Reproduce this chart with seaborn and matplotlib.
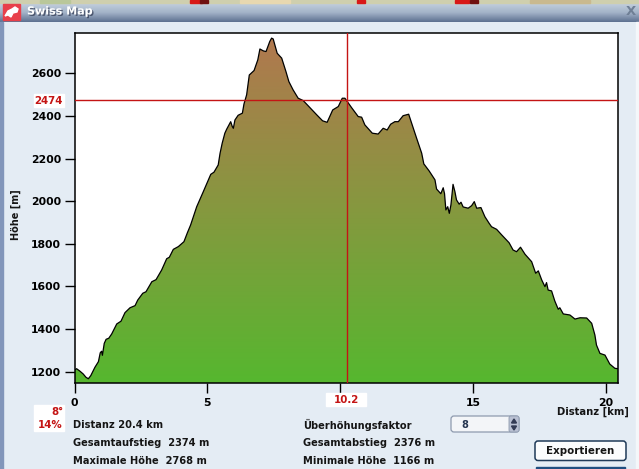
import matplotlib
matplotlib.use('Agg')
import matplotlib.pyplot as plt
from matplotlib.colors import LinearSegmentedColormap
from matplotlib.patches import FancyBboxPatch, Polygon, Rectangle
import matplotlib.patheffects as pe
import numpy as np
import pandas as pd
import seaborn as sns

# profile
dist_km = [0, .08, .21, .33, .43, .52, .61, .77, .90, .97, 1.02, 1.05, 1.12, 1.19, 1.29, 1.40, 1.59, 1.75, 1.90, 2.09,
           2.28, 2.38, 2.57, 2.69, 2.91, 3.07, 3.28, 3.47, 3.57, 3.72, 3.91, 4.12, 4.25, 4.37, 4.60, 4.85, 5.13, 5.25,
           5.41, 5.48, 5.56, 5.66, 5.73, 5.88, 5.94, 5.98, 6.04, 6.16, 6.32, 6.38, 6.48, 6.58, 6.76, 6.90, 6.98, 7.11,
           7.21, 7.35, 7.42, 7.48, 7.63, 7.80, 7.96, 8.07, 8.23, 8.42, 8.61, 8.86, 9.12, 9.34, 9.51, 9.72, 9.93, 10.08,
           10.18, 10.43, 10.68, 10.81, 10.93, 11.21, 11.43, 11.62, 11.77, 11.90, 12.06, 12.19, 12.37, 12.58, 12.69,
           12.88, 13.07, 13.15, 13.35, 13.57, 13.63, 13.79, 13.88, 13.93, 13.98, 14.05, 14.11, 14.17, 14.25, 14.32,
           14.38, 14.48, 14.55, 14.63, 14.82, 14.95, 15.05, 15.14, 15.30, 15.45, 15.61, 15.70, 15.89, 16.08, 16.36,
           16.51, 16.64, 16.79, 16.96, 17.21, 17.36, 17.46, 17.59, 17.71, 17.77, 17.83, 17.96, 18.08, 18.21, 18.27,
           18.40, 18.65, 18.84, 19.03, 19.28, 19.47, 19.59, 19.65, 19.78, 19.97, 20.15, 20.34, 20.46]
height_m = [1208, 1214, 1202, 1189, 1174, 1167, 1181, 1221, 1247, 1289, 1296, 1277, 1333, 1352, 1357, 1377, 1424, 1437,
            1477, 1500, 1510, 1536, 1568, 1575, 1622, 1632, 1677, 1730, 1737, 1774, 1787, 1810, 1852, 1888, 1974, 2045,
            2126, 2136, 2170, 2225, 2272, 2319, 2338, 2373, 2350, 2342, 2381, 2403, 2413, 2456, 2499, 2592, 2613, 2663,
            2714, 2705, 2702, 2749, 2765, 2761, 2694, 2671, 2608, 2561, 2522, 2483, 2472, 2439, 2405, 2377, 2370, 2428,
            2444, 2483, 2483, 2439, 2397, 2394, 2358, 2319, 2315, 2342, 2334, 2361, 2373, 2373, 2401, 2408, 2366, 2295,
            2225, 2175, 2142, 2100, 2057, 2035, 2063, 2035, 1959, 1974, 1943, 1982, 2079, 2045, 2006, 1986, 1995, 1973,
            1967, 1979, 1998, 1967, 1970, 1927, 1896, 1880, 1868, 1842, 1805, 1771, 1763, 1784, 1751, 1716, 1662, 1673,
            1630, 1599, 1618, 1583, 1579, 1532, 1493, 1500, 1471, 1466, 1447, 1453, 1452, 1427, 1372, 1325, 1286, 1278,
            1236, 1216, 1214]
x_ticks = [0, 5, 10, 15, 20]
x_labels = ['0', '5', '', '15', '20']  # the 10 sits under the cursor read-out
y_ticks = [1200, 1400, 1600, 1800, 2000, 2200, 2400, 2600]
cursor_km = 10.24
cursor_m = 2474

W, H = 639, 469
PANEL = '#E4ECF4'
RED = '#C41414'
TXT = '#151515'

sns.set_style('ticks')
plt.rcParams['font.family'] = ['DejaVu Sans']
fig = plt.figure(figsize=(W / 100, H / 100), dpi=100, facecolor=PANEL)

# window chrome, in pixels
bg = fig.add_axes([0, 0, 1, 1], zorder=0)
bg.set_xlim(0, W)
bg.set_ylim(H, 0)
bg.axis('off')
bar = np.linspace(0, 1, 40).reshape(-1, 1)
bar_cmap = LinearSegmentedColormap.from_list('bar', ['#C3CFDE', '#A3B3C8', '#5E7291'])
bg.imshow(bar, extent=[0, W, 22, 3], cmap=bar_cmap, aspect='auto', zorder=1)
bg.set_xlim(0, W)
bg.set_ylim(H, 0)
bg.add_patch(Rectangle((0, 0), W, 3, color='#CFCFAE', zorder=1))
for x0, w, c in [(190, 12, '#D81818'), (200, 8, '#701010'), (357, 8, '#D81818'), (455, 14, '#D81818'),
                 (470, 8, '#701010'), (40, 30, '#B9C79A'), (240, 50, '#E8D8B0'), (530, 60, '#C9B98F')]:
    bg.add_patch(Rectangle((x0, 0), w, 3, color=c, zorder=1.1))
bg.add_patch(Rectangle((0, 22), 3, H - 22, color='#8296BA', zorder=1))
bg.add_patch(Rectangle((636, 22), 3, H - 22, color='#F4F7FA', zorder=1))
bg.add_patch(Rectangle((3, 4), 17, 16, color='#E8404A', zorder=2))
bg.add_patch(Polygon([(5, 16), (8, 11), (12, 9), (15, 7), (18, 9), (17, 12), (13, 13), (11, 17), (8, 15)],
                     color='white', zorder=3))
bg.text(27, 11.5, 'Swiss Map', color='white', fontsize=8, fontweight='bold', va='center', zorder=4,
        path_effects=[pe.withSimplePatchShadow(offset=(1, -1), shadow_rgbFace='#303850', alpha=.7)])
bg.text(631, 11.5, 'X', color='#6F7F95', fontsize=9.5, fontweight='bold', ha='center', va='center', zorder=4)

# chart
ax = fig.add_axes([74.5 / W, 1 - 383 / H, (618 - 74.5) / W, (383 - 33) / H], zorder=2)
ax.set_xlim(0, 20.46)
ax.set_ylim(1147, 2789)
ax.set_facecolor('white')
grad = np.linspace(1, 0, 200).reshape(-1, 1)
cmap = LinearSegmentedColormap.from_list('hoehe', ['#56B72F', '#86983F', '#B2774F'])
im = ax.imshow(grad, extent=[0, 20.46, 1147, 2789], aspect='auto', cmap=cmap, vmin=0, vmax=1, zorder=1)
poly = ax.fill_between(dist_km, height_m, 1147, color='none')
im.set_clip_path(poly.get_paths()[0], transform=ax.transData)
df = pd.DataFrame({'dist': dist_km, 'hoehe': height_m})
sns.lineplot(data=df, x='dist', y='hoehe', color='black', lw=.9, estimator=None, ax=ax, zorder=3)
ax.axvline(cursor_km, color=RED, lw=1, zorder=4)
ax.axhline(cursor_m, color=RED, lw=1, zorder=4)

ax.set_xticks(x_ticks, x_labels)
ax.set_yticks(y_ticks)
ax.tick_params(length=7, width=1, color='black', labelsize=7.8, labelcolor='black')
ax.tick_params(axis='y', pad=2.5)
ax.tick_params(axis='x', pad=4)
for lab in ax.get_xticklabels() + ax.get_yticklabels():
    lab.set_fontweight('bold')
ax.set_xlabel('')
ax.set_ylabel('')
for s in ax.spines.values():
    s.set_linewidth(1.1)
    s.set_color('black')

# labels and read-outs on top of the panel
fg = fig.add_axes([0, 0, 1, 1], zorder=3)
fg.set_xlim(0, W)
fg.set_ylim(H, 0)
fg.axis('off')
fg.patch.set_alpha(0)
fg.text(16, 215, 'Höhe [m]', rotation=90, fontsize=7, fontweight='bold', color=TXT, ha='center', va='center')
fg.text(593, 412, 'Distanz [km]', fontsize=7.2, fontweight='bold', color=TXT, ha='center', va='center')

fg.add_patch(Rectangle((34, 94), 30, 13, color='white'))
fg.text(63, 101, '2474', color=RED, fontsize=7.4, fontweight='bold', ha='right', va='center')
fg.add_patch(Rectangle((326, 393), 40, 13, color='white'))
fg.text(346.5, 400, '10.2', color=RED, fontsize=7.4, fontweight='bold', ha='center', va='center')
fg.add_patch(Rectangle((34, 405), 30, 26, color='white'))
fg.text(63, 412, '8°', color=RED, fontsize=7.4, fontweight='bold', ha='right', va='center')
fg.text(63, 425, '14%', color=RED, fontsize=7.4, fontweight='bold', ha='right', va='center')

for x0, y0, s in [(73, 425, 'Distanz 20.4 km'), (73, 443, 'Gesamtaufstieg  2374 m'), (73, 461, 'Maximale Höhe  2768 m'),
                  (303, 425, 'Überhöhungsfaktor'), (303, 443, 'Gesamtabstieg  2376 m'),
                  (303, 461, 'Minimale Höhe  1166 m')]:
    fg.text(x0, y0, s, fontsize=7.1, fontweight='bold', color=TXT, va='center')

# spinner and buttons
fg.add_patch(FancyBboxPatch((451, 416), 68, 16, boxstyle='round,pad=0,rounding_size=3', fc='#F3F5F8', ec='#8E9AAE', lw=.9))
fg.add_patch(FancyBboxPatch((509, 416), 10, 16, boxstyle='round,pad=0,rounding_size=2', fc='#B9C0D2', ec='#8E9AAE', lw=.6))
fg.add_patch(Polygon([(511.5, 423), (516.5, 423), (514, 419)], color='#333B55'))
fg.add_patch(Polygon([(511.5, 426), (516.5, 426), (514, 430)], color='#333B55'))
fg.text(461, 424.5, '8', fontsize=7, fontweight='bold', color='#253550', va='center')
fg.add_patch(FancyBboxPatch((535, 441), 91, 19.5, boxstyle='round,pad=0,rounding_size=3', fc='#FBFCFD', ec='#1F3A58', lw=1.1))
fg.text(580.5, 450.5, 'Exportieren', fontsize=7.4, fontweight='bold', color=TXT, ha='center', va='center')
fg.add_patch(Rectangle((536, 467), 89, 2, color='#1F4E80'))

fig.savefig('out.png', dpi=100, facecolor=PANEL)
